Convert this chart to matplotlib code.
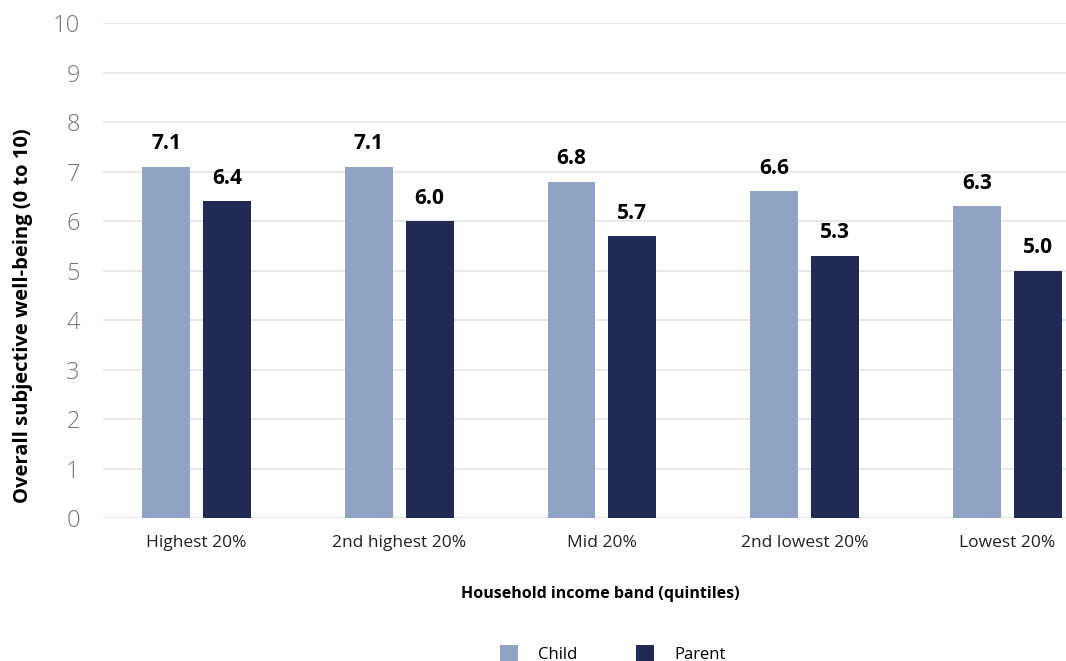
import matplotlib.pyplot as plt
import numpy as np

bands = ['Highest 20%', '2nd highest 20%', 'Mid 20%', '2nd lowest 20%', 'Lowest 20%']
child = [7.1, 7.1, 6.8, 6.6, 6.3]
parent = [6.4, 6.0, 5.7, 5.3, 5.0]

plt.rcParams['font.family'] = ['Open Sans', 'DejaVu Sans']

fig = plt.figure(figsize=(10.66, 6.61), dpi=100)
ax = fig.add_axes([0.097, 0.216, 0.903, 0.749])

x = np.arange(len(bands))
w = 0.236
off = 0.15
b1 = ax.bar(x - off, child, w, color='#91A3C4', label='Child', zorder=3)
b2 = ax.bar(x + off, parent, w, color='#212A56', label='Parent', zorder=3)

for bars in (b1, b2):
    for r in bars:
        ax.text(r.get_x() + r.get_width() / 2, r.get_height() + 0.25, '%.1f' % r.get_height(),
                ha='center', va='bottom', fontsize=15, fontweight='bold', color='black')

ax.set_ylim(0, 10)
ax.set_xlim(-0.46, 4.29)
ax.set_yticks(range(11))
ax.set_yticklabels([str(i) for i in range(11)], fontsize=17, fontweight='light', color='#777777')
ax.set_xticks(x)
ax.set_xticklabels(bands, fontsize=12.5, color='#222222')
ax.tick_params(length=0)
ax.tick_params(axis='y', pad=17)
ax.tick_params(axis='x', pad=12)
ax.grid(axis='y', color='#E6E6E6', linewidth=1.3, zorder=0)
for s in ax.spines.values():
    s.set_visible(False)

ax.set_ylabel('Overall subjective well-being (0 to 10)', fontsize=14.5, fontweight='bold')
ax.yaxis.set_label_coords(-0.073, 0.41)
fig.text(0.563, 0.101, 'Household income band (quintiles)', ha='center', va='center',
         fontsize=11.5, fontweight='bold')

fig.legend(handles=[b1, b2], loc='center', bbox_to_anchor=(0.575, 0.011), ncol=2, frameon=False,
           fontsize=12, handlelength=1.1, handleheight=1.1, columnspacing=3.5, handletextpad=1.2)

fig.savefig('out.png', dpi=100)
